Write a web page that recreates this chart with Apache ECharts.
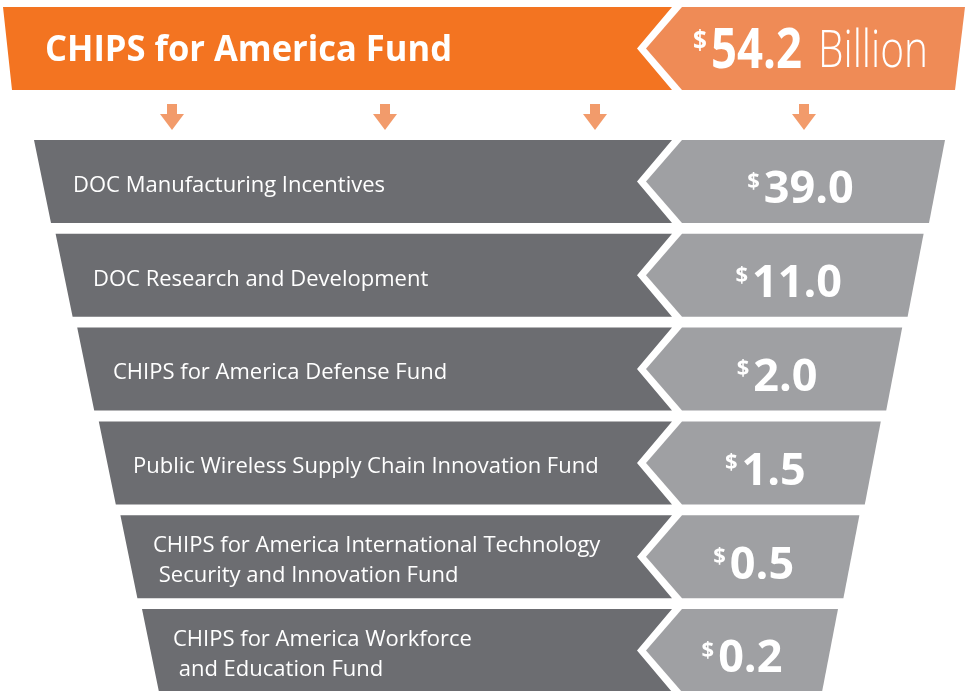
<!DOCTYPE html>
<html><head><meta charset="utf-8">
<script src="https://cdn.jsdelivr.net/npm/echarts@6/dist/echarts.min.js"></script>
<style>html,body{margin:0;padding:0;background:#fff}#c{width:966px;height:691px}</style>
</head><body><div id="c"></div>
<script>
// ---- data ----
const headerTitle = 'CHIPS for America Fund';
const totalValue = [54.2];
const totalUnit = 'Billion';
const categories = [
  'DOC Manufacturing Incentives',
  'DOC Research and Development',
  'CHIPS for America Defense Fund',
  'Public Wireless Supply Chain Innovation Fund',
  'CHIPS for America International Technology\n Security and Innovation Fund',
  'CHIPS for America Workforce\n and Education Fund'
];
const values = [39.0, 11.0, 2.0, 1.5, 0.5, 0.2];

// ---- styling ----
const C = {
  darkOrange: '#F37421', lightOrange: '#EF8B56', arrow: '#F29B6B',
  darkGray: '#6C6D71', lightGray: '#9FA0A3'
};
const FF = '"Open Sans", "Noto Sans", sans-serif';
const mctx = document.createElement('canvas').getContext('2d');
function tw(text, font) { mctx.font = font; return mctx.measureText(text).width; }

function txt(x, y, text, size, weight, align, scaleX, extra) {
  return {
    type: 'text', x: x, y: y, scaleX: scaleX || 1, scaleY: 1, originX: 0, originY: 0,
    style: Object.assign({
      text: text, x: 0, y: 0, fill: '#fff', fontSize: size, fontWeight: weight,
      fontFamily: FF, align: align || 'left', verticalAlign: 'middle'
    }, extra || {})
  };
}

function renderHeader(params, api) {
  const X = v => api.coord([v, 0])[0];
  const c = api.coord([0, 0]);
  const band = api.size([0, 1])[1];
  const top = c[1] - band / 2, bot = c[1] + band / 2, mid = c[1];
  const children = [];
  children.push({ type: 'polygon', shape: { points: [[X(3), top], [X(672), top], [X(637), mid], [X(672), bot], [X(12), bot]] }, style: { fill: C.darkOrange } });
  children.push({ type: 'polygon', shape: { points: [[X(682), top], [X(965), top], [X(955), bot], [X(682), bot], [X(646), mid]] }, style: { fill: C.lightOrange } });
  // title
  const tFont = 'bold 36px "Open Sans"';
  const tScale = 407 / tw(headerTitle, tFont);
  children.push(txt(X(45), mid + 2, headerTitle, 36, 'bold', 'left', tScale));
  // total value
  const vStr = api.value(1).toFixed(1);
  const vFont = 'bold 55px "Open Sans"';
  const vScale = 91 / tw(vStr, vFont);
  children.push(txt(X(693), mid - 7.5, '$', 27, 'bold', 'left', 0.9));
  children.push(txt(X(711), mid + 3.5, vStr, 55, 'bold', 'left', vScale));
  const uFont = '300 52px "Open Sans"';
  const uScale = 110 / tw(totalUnit, uFont);
  children.push(txt(X(818), mid + 4, totalUnit, 52, 300, 'left', uScale));
  // arrows
  [172, 385, 595, 804].forEach(ax => {
    const x = X(ax), y0 = bot + 14;
    children.push({ type: 'polygon', shape: { points: [
      [x - 5, y0], [x + 5, y0], [x + 5, y0 + 10], [x + 12, y0 + 10], [x, y0 + 26], [x - 12, y0 + 10], [x - 5, y0 + 10]
    ] }, style: { fill: C.arrow } });
  });
  return { type: 'group', children: children };
}

function renderRow(params, api) {
  const i = api.value(0);
  const v = api.value(1);
  const X = x => api.coord([x, i])[0];
  const c = api.coord([0, i]);
  const band = api.size([0, 1])[1];
  const h = band * 0.885;
  const top = c[1] - h / 2, bot = c[1] + h / 2, mid = c[1];
  const lt = 34 + 21.6 * i, lb = lt + 17;
  const rt = 945 - 21.4 * i, rb = rt - 16;
  const children = [];
  children.push({ type: 'polygon', shape: { points: [[X(lt), top], [X(672), top], [X(637), mid], [X(672), bot], [X(lb), bot]] }, style: { fill: C.darkGray } });
  children.push({ type: 'polygon', shape: { points: [[X(682), top], [X(rt), top], [X(rb), bot], [X(682), bot], [X(646), mid]] }, style: { fill: C.lightGray } });
  // label
  children.push(txt(X(73 + 20 * i), mid + 4, categories[i], 22, 'normal', 'left', 1, { lineHeight: 30 }));
  // value
  const dStr = v.toFixed(1);
  const dW = tw(dStr, 'bold 45px "Open Sans"');
  const sW = tw('$', 'bold 22px "Open Sans"');
  const gap = 4;
  const cx = X((664 + (rt + rb) / 2) / 2 - i);
  const left = cx - (sW + gap + dW) / 2;
  children.push(txt(left, mid + 0, '$', 22, 'bold', 'left'));
  children.push(txt(left + sW + gap, mid + 9, dStr, 45, 'bold', 'left'));
  return { type: 'group', children: children };
}

const chart = echarts.init(document.getElementById('c'), null, { renderer: 'canvas' });
chart.setOption({
  animation: false,
  backgroundColor: '#ffffff',
  grid: [
    { left: 0, right: 0, top: 7, height: 83 },
    { left: 0, right: 0, top: 181.5, height: 93.8 * 5 }
  ],
  xAxis: [
    { gridIndex: 0, type: 'value', min: 0, max: 966, show: false },
    { gridIndex: 1, type: 'value', min: 0, max: 966, show: false }
  ],
  yAxis: [
    { gridIndex: 0, type: 'category', data: ['total'], show: false },
    { gridIndex: 1, type: 'category', data: categories, inverse: true, boundaryGap: false, show: false }
  ],
  series: [
    { type: 'custom', xAxisIndex: 0, yAxisIndex: 0, silent: true, clip: false,
      data: totalValue.map(v => [0, v]), encode: { y: 0, x: 1 }, renderItem: renderHeader },
    { type: 'custom', xAxisIndex: 1, yAxisIndex: 1, silent: true, clip: false,
      data: values.map((v, i) => [i, v]), encode: { y: 0, x: 1 }, renderItem: renderRow }
  ]
});
</script>
</body></html>
